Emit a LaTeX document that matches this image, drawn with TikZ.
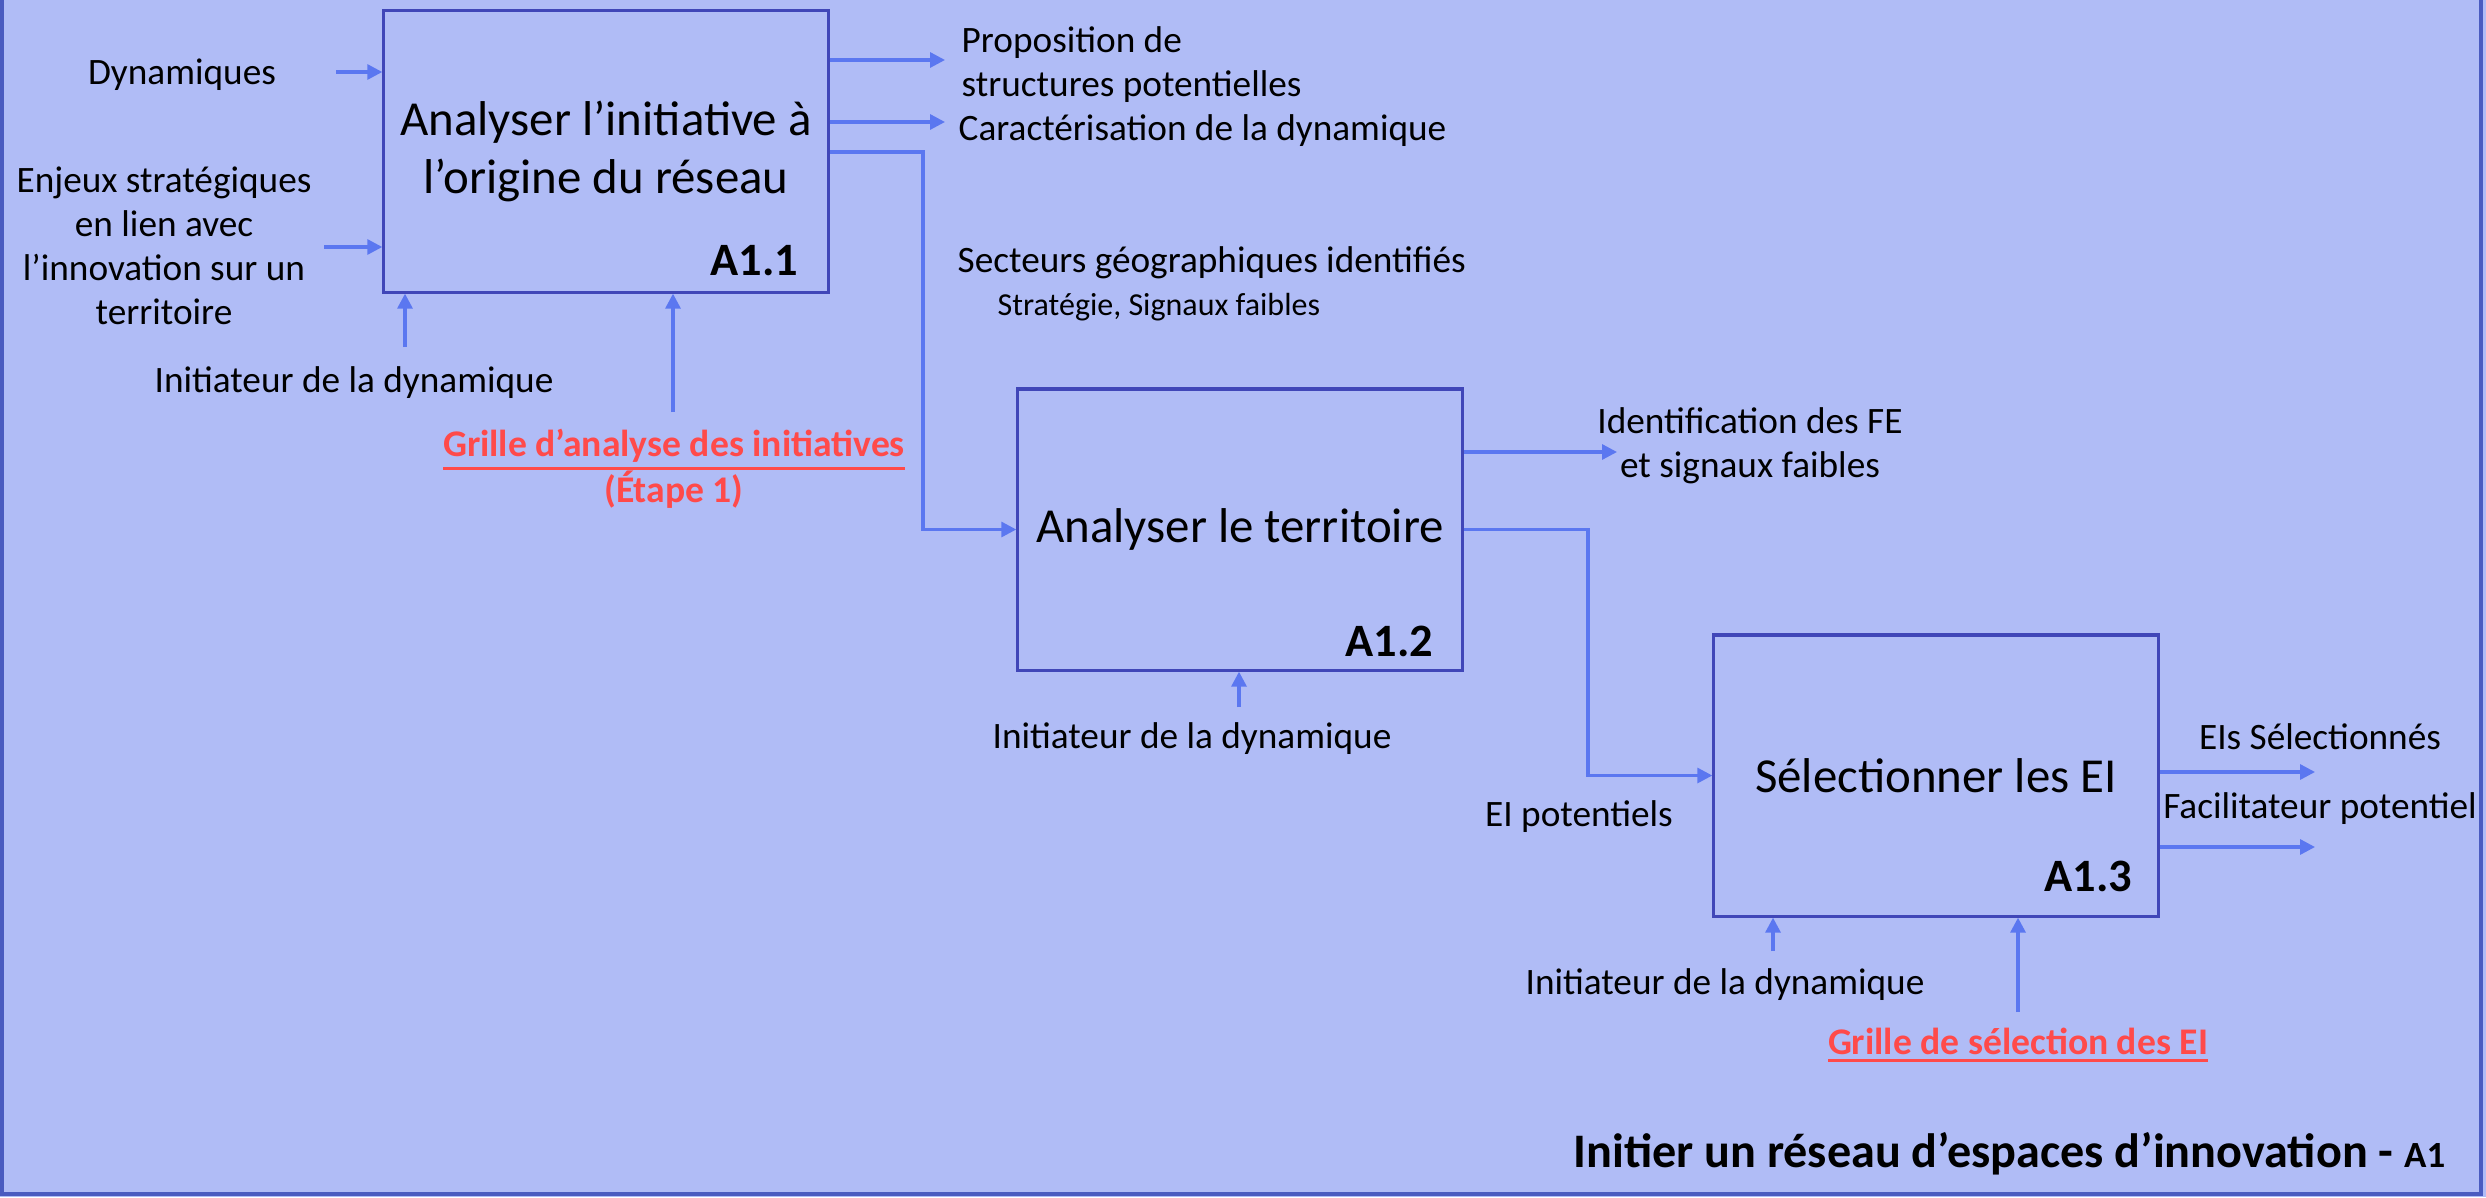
\documentclass[tikz,border=0pt]{standalone}
\usepackage{fontspec}
\setmainfont{Carlito}
\usepackage{tikz}
\usetikzlibrary{positioning}
\usetikzlibrary{arrows.meta}
\definecolor{fond}{RGB}{176,188,246}
\definecolor{cadre}{RGB}{74,91,192}
\definecolor{boite}{RGB}{64,70,184}
\definecolor{fleche}{RGB}{91,119,240}
\definecolor{rouge}{RGB}{255,74,74}
\newcommand{\souligne}[1]{\leavevmode\vtop{\hbox{#1}\kern1.2pt\hrule height 0.8pt}}
\tikzstyle{activite} = [draw=boite, line width=0.9pt, minimum width=4.44cm, minimum height=2.81cm, inner sep=0pt, align=center, font=\fontsize{13.9}{16.5}\selectfont]
\tikzstyle{code} = [font=\fontsize{13.2}{15}\selectfont\bfseries, inner sep=0pt, anchor=base east]
\tikzstyle{lbl} = [font=\fontsize{10.6}{12.5}\selectfont, inner sep=0pt, align=center]
\tikzstyle{petit} = [font=\fontsize{9.1}{10.5}\selectfont, inner sep=0pt]
\tikzstyle{outil} = [font=\fontsize{10.7}{13}\selectfont\bfseries, text=rouge, inner sep=0pt, align=center]
\tikzstyle{arrow} = [draw=fleche, line width=0.9pt, -{Triangle[length=1.5mm,width=1.5mm]}]

\begin{document}
\begin{tikzpicture}[x=0.01cm, y=-0.01cm]
    \fill[fond] (0,0) rectangle (2486,1197);
    \useasboundingbox (0,0) rectangle (2486,1197);
    \draw[cadre, line width=1pt] (2,0) -- (2,1194) -- (2481,1194) -- (2481,0);

    % boxes
    \node[activite] (a11) at (606,151.5) {Analyser l’initiative à\\l’origine du réseau};
    \node[activite] (a12) at (1240,529.5) {Analyser le territoire};
    \node[activite] (a13) at (1936,775.5) {Sélectionner les EI};
    \node[code] (c11) at (799,275) {A1.1};
    \node[code] (c12) at (1434,656) {A1.2};
    \node[code] (c13) at (2133,891) {A1.3};

    % A1.1
    \node[lbl] (dyn) at (182,75) {Dynamiques};
    \node[lbl] (enjeux) at (164,246) {Enjeux stratégiques\\en lien avec\\l’innovation sur un\\territoire};
    \node[lbl] (init1) at (354,383) {Initiateur de la dynamique};
    \node[outil] (grille1) at (674,469) {\souligne{Grille d’analyse des initiatives}\\(Étape 1)};
    \node[lbl, align=left, anchor=west] (prop) at (961,65) {Proposition de\\structures potentielles};
    \node[lbl, anchor=west] (carac) at (958,131) {Caractérisation de la dynamique};
    \node[lbl, anchor=west] (secteurs) at (957,263) {Secteurs géographiques identifiés};
    \node[petit, anchor=west] (strat) at (997,307) {Stratégie, Signaux faibles};

    \coordinate (dynin) at (336,72);
    \coordinate (enjin) at (324,247);
    \coordinate (init1in) at (405,347);
    \coordinate (grille1in) at (673,412);
    \coordinate (propout) at (945,60);
    \coordinate (caracout) at (945,122);
    \coordinate (coude1) at (923,152);
    \draw[arrow] (dynin) -- (a11.west |- dynin);
    \draw[arrow] (enjin) -- (a11.west |- enjin);
    \draw[arrow] (init1in) -- (a11.south -| init1in);
    \draw[arrow] (grille1in) -- (a11.south -| grille1in);
    \draw[arrow] (a11.east |- propout) -- (propout);
    \draw[arrow] (a11.east |- caracout) -- (caracout);
    \draw[arrow] (a11.east |- coude1) -- (coude1) |- (a12.west);

    % A1.2
    \node[lbl] (ident) at (1750,446) {Identification des FE\\et signaux faibles};
    \node[lbl] (init2) at (1192,739) {Initiateur de la dynamique};
    \coordinate (identout) at (1617,452);
    \coordinate (init2in) at (1239,707);
    \coordinate (coude2) at (1588,529.5);
    \draw[arrow] (a12.east |- identout) -- (identout);
    \draw[arrow] (init2in) -- (a12.south -| init2in);
    \draw[arrow] (a12.east) -- (coude2) |- (a13.west);

    % A1.3
    \node[lbl] (eipot) at (1579,817) {EI potentiels};
    \node[lbl] (eis) at (2320,737) {EIs Sélectionnés};
    \node[lbl] (facil) at (2320,809) {Facilitateur potentiel};
    \node[lbl] (init3) at (1725,985) {Initiateur de la dynamique};
    \node[outil] (grille3) at (2018,1045) {\souligne{Grille de sélection des EI}};
    \coordinate (eisout) at (2315,772);
    \coordinate (facilout) at (2315,847);
    \coordinate (init3in) at (1773,951);
    \coordinate (grille3in) at (2018,1012);
    \draw[arrow] (a13.east |- eisout) -- (eisout);
    \draw[arrow] (a13.east |- facilout) -- (facilout);
    \draw[arrow] (init3in) -- (a13.south -| init3in);
    \draw[arrow] (grille3in) -- (a13.south -| grille3in);

    \node[font=\fontsize{13.7}{16}\selectfont\bfseries, inner sep=0pt, anchor=base east] (titre) at (2446,1167) {Initier un réseau d’espaces d’innovation - {\fontsize{10.5}{12}\selectfont A1}};
\end{tikzpicture}
\end{document}
